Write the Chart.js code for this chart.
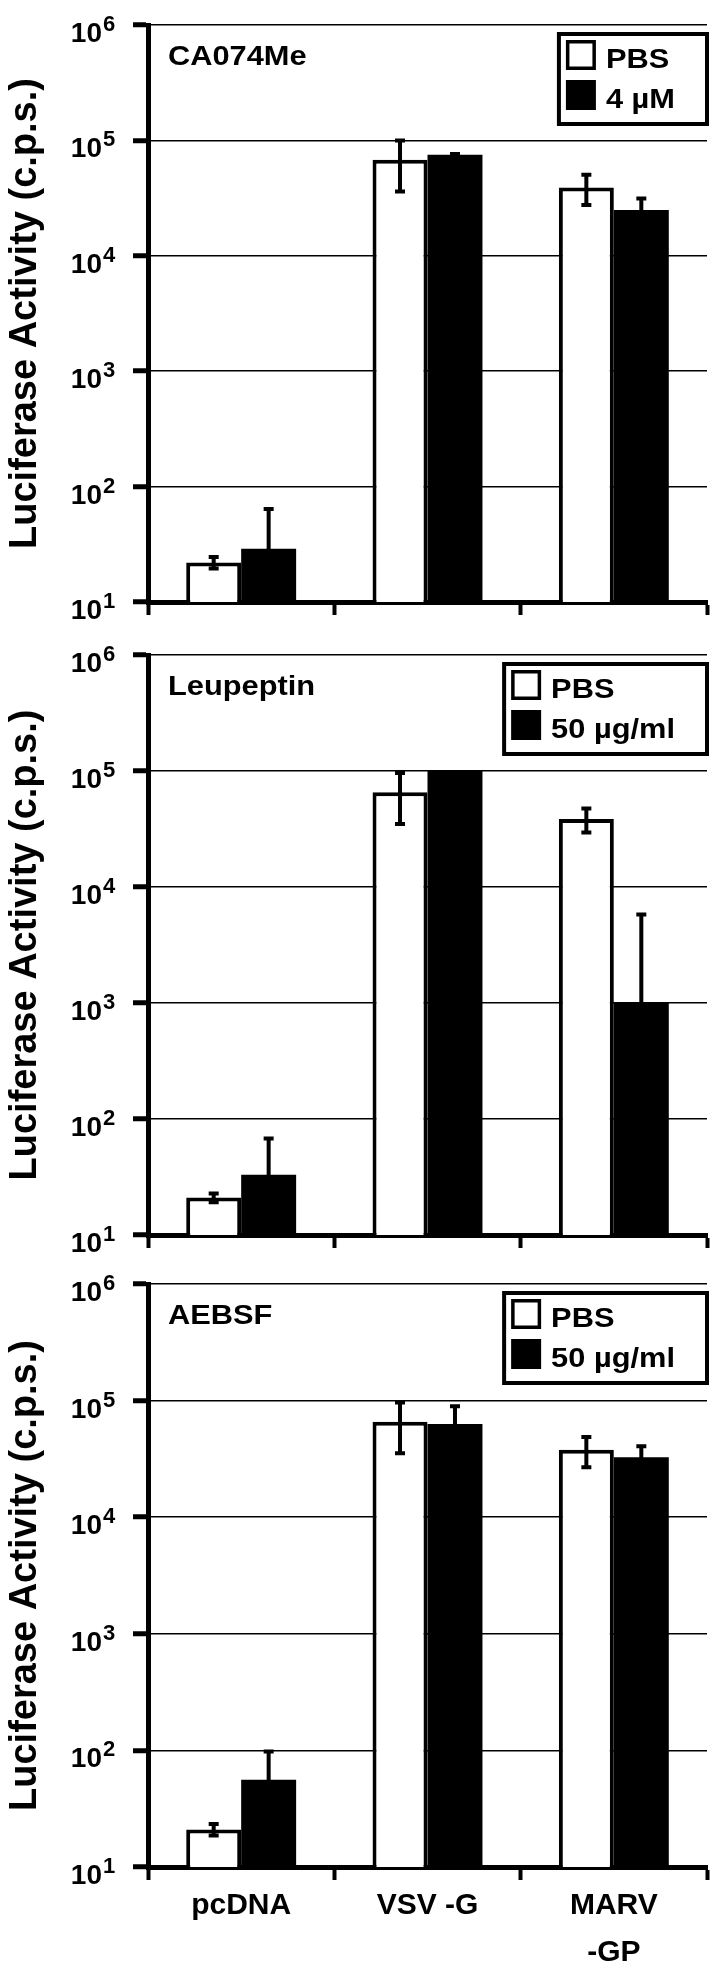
<!DOCTYPE html>
<html>
<head>
<meta charset="utf-8">
<script src="https://cdn.jsdelivr.net/npm/chart.js@4.4.1/dist/chart.umd.min.js"></script>
<style>
  body { margin: 0; background: #fff; }
  canvas { display: block; position: absolute; left: 0; }
</style>
</head>
<body>
<canvas id="c1" width="717" height="640" style="top:0px"></canvas>
<canvas id="c2" width="717" height="630" style="top:640px"></canvas>
<canvas id="c3" width="717" height="703" style="top:1270px"></canvas>
<script>
const categories = ['pcDNA', 'VSV -G', ['MARV', '-GP']];
const tickExponents = [1, 2, 3, 4, 5, 6];
const yTitle = 'Luciferase Activity (c.p.s.)';

// CA074Me panel
const caPBS = [22, 68000, 39000];
const caPBSErr = [2.5, 32000, 11500];
const caDrug = [29, 75000, 25000];
const caDrugErr = [35, 1200, 6300];

// Leupeptin panel
const leuPBS = [21, 65500, 38500];
const leuPBSErr = [1.8, 30500, 9000];
const leuDrug = [33, 100000, 1000];
const leuDrugErr = [35, 0, 4800];

// AEBSF panel
const aePBS = [21, 65800, 37800];
const aePBSErr = [2.4, 30500, 11000];
const aeDrug = [56, 63000, 32600];
const aeDrugErr = [42, 26500, 8000];

const FONT = '"Liberation Sans", Arial, Helvetica, sans-serif';
Chart.defaults.font.family = FONT;
Chart.defaults.color = '#000';

const panels = [
  { id: 'c1', name: 'CA074Me', drugLabel: '4 µM', pbs: caPBS, pbsErr: caPBSErr, drug: caDrug, drugErr: caDrugErr, padTop: 25, xHeight: 38, showX: false },
  { id: 'c2', name: 'Leupeptin', drugLabel: '50 µg/ml', pbs: leuPBS, pbsErr: leuPBSErr, drug: leuDrug, drugErr: leuDrugErr, padTop: 15, xHeight: 35, showX: false },
  { id: 'c3', name: 'AEBSF', drugLabel: '50 µg/ml', pbs: aePBS, pbsErr: aePBSErr, drug: aeDrug, drugErr: aeDrugErr, padTop: 14, xHeight: 106, showX: true }
];

// error bars, power-of-ten tick labels, panel name and boxed legend
const decor = {
  id: 'decor',
  afterDatasetsDraw(chart) {
    const ctx = chart.ctx;
    const ys = chart.scales.y;
    ctx.save();
    ctx.strokeStyle = '#000';
    ctx.lineWidth = 4;
    chart.data.datasets.forEach((ds, i) => {
      const meta = chart.getDatasetMeta(i);
      meta.data.forEach((bar, j) => {
        const v = ds.data[j], e = ds.errors[j];
        if (!e) return;
        const hi = ys.getPixelForValue(v + e);
        const loVal = v - e;
        const lo = loVal > ys.min ? ys.getPixelForValue(loVal) : ys.bottom;
        ctx.beginPath();
        ctx.moveTo(bar.x, hi);
        ctx.lineTo(bar.x, lo);
        ctx.moveTo(bar.x - 5, hi);
        ctx.lineTo(bar.x + 5, hi);
        if (loVal > ys.min) {
          ctx.moveTo(bar.x - 5, lo);
          ctx.lineTo(bar.x + 5, lo);
        }
        ctx.stroke();
      });
    });
    ctx.restore();
  },
  afterDraw(chart, args, opts) {
    const ctx = chart.ctx;
    const ys = chart.scales.y;
    const area = chart.chartArea;
    ctx.save();
    ctx.fillStyle = '#000';

    // y tick labels 10^n
    tickExponents.forEach(p => {
      const py = ys.getPixelForValue(Math.pow(10, p));
      ctx.font = 'bold 28px ' + FONT;
      ctx.textAlign = 'right';
      ctx.textBaseline = 'alphabetic';
      ctx.fillText('10', area.left - 46, py + 17);
      ctx.font = 'bold 22px ' + FONT;
      ctx.textAlign = 'left';
      ctx.fillText(String(p), area.left - 45, py + 6);
    });

    const sx = 1.1;
    // panel name
    ctx.font = 'bold 28px ' + FONT;
    ctx.textAlign = 'left';
    ctx.save();
    ctx.translate(area.left + 20, area.top + 40);
    ctx.scale(sx, 1);
    ctx.fillText(opts.name, 0, 0);
    ctx.restore();

    // legend box
    const labels = chart.data.datasets.map(d => d.label);
    const textW = Math.max(...labels.map(l => ctx.measureText(l).width)) * sx;
    const boxW = 9 + 30 + 10 + textW + 34;
    const boxH = 94;
    const bx = area.right + 2 - boxW;
    const by = area.top + 7;
    ctx.lineWidth = 4;
    ctx.strokeStyle = '#000';
    ctx.fillStyle = '#fff';
    ctx.fillRect(bx, by, boxW, boxH);
    ctx.strokeRect(bx + 2, by + 2, boxW - 4, boxH - 4);
    chart.data.datasets.forEach((ds, i) => {
      const sy = by + 8 + i * 40;
      const swx = bx + 9;
      ctx.fillStyle = ds.backgroundColor;
      ctx.fillRect(swx, sy, 30, 30);
      if (ds.backgroundColor === '#fff') {
        ctx.lineWidth = 3.5;
        ctx.strokeRect(swx + 1.75, sy + 1.75, 30 - 3.5, 30 - 3.5);
      }
      ctx.fillStyle = '#000';
      ctx.save();
      ctx.translate(swx + 40, sy + 28);
      ctx.scale(sx, 1);
      ctx.fillText(ds.label, 0, 0);
      ctx.restore();
    });
    ctx.restore();
  }
};

panels.forEach(p => {
  new Chart(document.getElementById(p.id), {
    type: 'bar',
    data: {
      labels: categories,
      datasets: [
        { label: 'PBS', data: p.pbs, errors: p.pbsErr, backgroundColor: '#fff', borderColor: '#000', borderWidth: 4, borderSkipped: 'start' },
        { label: p.drugLabel, data: p.drug, errors: p.drugErr, backgroundColor: '#000', borderColor: '#000', borderWidth: 0 }
      ]
    },
    options: {
      responsive: false,
      animation: false,
      categoryPercentage: 0.59,
      barPercentage: 1.0,
      layout: { padding: { top: p.padTop, right: 10, left: 0, bottom: 0 } },
      plugins: {
        legend: { display: false },
        tooltip: { enabled: false },
        decor: { name: p.name }
      },
      scales: {
        x: {
          offset: true,
          grid: { display: true, drawOnChartArea: false, drawTicks: true, tickLength: 13, tickWidth: 4, tickColor: '#000', color: '#000', offset: true },
          border: { display: true, color: '#000', width: 5 },
          ticks: { display: p.showX, color: '#000', font: { size: 30, weight: 'bold', lineHeight: 1.57 }, padding: 2, maxRotation: 0, autoSkip: false },
          afterFit: s => { s.height = p.xHeight; }
        },
        y: {
          type: 'logarithmic',
          min: 10,
          max: 1000000,
          afterBuildTicks: s => { s.ticks = tickExponents.map(e => ({ value: Math.pow(10, e) })); },
          grid: { color: '#000', lineWidth: 1.5, drawTicks: true, tickLength: 15, tickWidth: 5, tickColor: '#000' },
          border: { display: true, color: '#000', width: 5 },
          ticks: { display: false },
          title: { display: true, text: yTitle, color: '#000', font: { size: 38, weight: 'bold', lineHeight: 1.2 }, padding: { top: 3, bottom: 0 } },
          afterFit: s => { s.width = 148; }
        }
      }
    },
    plugins: [decor]
  });
});
</script>
</body>
</html>
